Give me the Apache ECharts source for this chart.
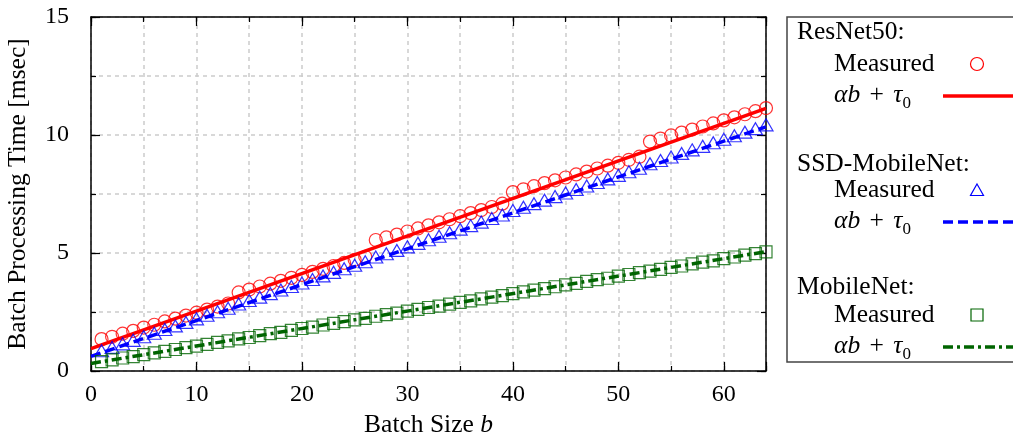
<!DOCTYPE html>
<html><head><meta charset="utf-8">
<script src="https://cdn.jsdelivr.net/npm/echarts@6/dist/echarts.min.js"></script>
<style>html,body{margin:0;padding:0;background:#fff}#c{width:1013px;height:435px}</style>
</head><body><div id="c"></div>
<script>
const batchSizes = [1,2,3,4,5,6,7,8,9,10,11,12,13,14,15,16,17,18,19,20,21,22,23,24,25,26,27,28,29,30,31,32,
  33,34,35,36,37,38,39,40,41,42,43,44,45,46,47,48,49,50,51,52,53,54,55,56,57,58,59,60,61,62,63,64];
const resnetMeasured = [1.35,1.45,1.58,1.70,1.84,1.96,2.10,2.22,2.35,2.47,2.60,2.73,2.86,3.33,3.45,3.58,
  3.70,3.82,3.95,4.07,4.20,4.33,4.45,4.58,4.71,4.84,5.55,5.66,5.78,5.91,6.04,6.17,
  6.30,6.43,6.56,6.69,6.82,6.95,7.09,7.58,7.70,7.83,7.96,8.08,8.20,8.33,8.45,8.58,
  8.70,8.82,8.95,9.08,9.72,9.85,9.98,10.10,10.23,10.36,10.49,10.62,10.75,10.88,11.01,11.14];
const ssdMeasured = [0.86,1.00,1.15,1.30,1.45,1.60,1.76,1.91,2.06,2.21,2.36,2.51,2.66,2.84,2.99,3.13,
  3.28,3.43,3.58,3.73,3.88,4.03,4.18,4.33,4.48,4.63,4.83,4.97,5.11,5.26,5.41,5.56,
  5.71,5.86,6.01,6.16,6.31,6.46,6.61,6.80,6.94,7.09,7.24,7.39,7.54,7.69,7.84,7.99,
  8.14,8.29,8.44,8.59,8.78,8.92,9.07,9.22,9.37,9.52,9.67,9.82,9.97,10.12,10.27,10.43];
const mobilenetMeasured = [0.40,0.47,0.55,0.61,0.69,0.77,0.83,0.91,0.99,1.05,1.13,1.21,1.28,1.36,1.42,1.50,
  1.58,1.64,1.72,1.80,1.86,1.95,2.02,2.09,2.17,2.23,2.32,2.39,2.45,2.54,2.61,2.69,
  2.75,2.83,2.91,2.97,3.06,3.13,3.19,3.28,3.35,3.43,3.49,3.57,3.65,3.71,3.80,3.87,
  3.93,4.02,4.09,4.17,4.23,4.31,4.39,4.45,4.54,4.61,4.67,4.76,4.83,4.91,4.97,5.05];
const modelNames = ['ResNet50:', 'SSD-MobileNet:', 'MobileNet:'];
const fitAlpha = [0.159, 0.152, 0.074];
const fitTau0 = [0.95, 0.62, 0.32];
const xTickLabels = [0,10,20,30,40,50,60];
const yTickLabels = [0,5,10,15];
const xRange = [0, 64];
const yRange = [0, 15];

const FONT = 'Liberation Serif';
const FS = 24;
const FS2 = 25.5;
const colors = ['#ff0000', '#0000ff', '#006400'];
const measuredSets = [resnetMeasured, ssdMeasured, mobilenetMeasured];

function pairs(vals){ return batchSizes.map((b,i)=>[b, vals[i]]); }
function fitLine(k){ return [xRange[0], xRange[1]].map(b => [b, fitTau0[k] + fitAlpha[k]*b]); }

const gridStyle = {show:true, lineStyle:{color:'#cccccc', type:[4,4], width:1.5}};
function xAx(pos, interval, len, labels, line, split){
  return {type:'value', min:xRange[0], max:xRange[1], interval, position:pos,
    axisLine:{show:line, onZero:false, lineStyle:{color:'#000', width:1.5}},
    axisTick:{show:true, inside:true, length:len, lineStyle:{color:'#000', width:1.2}},
    axisLabel:{show:labels, margin:12, fontFamily:FONT, fontSize:FS, color:'#000',
      formatter: v => xTickLabels.includes(v) ? String(v) : ''},
    splitLine: split ? gridStyle : {show:false}};
}
function yAx(pos, interval, len, labels, line, split){
  return {type:'value', min:yRange[0], max:yRange[1], interval, position:pos,
    axisLine:{show:line, onZero:false, lineStyle:{color:'#000', width:1.5}},
    axisTick:{show:true, inside:true, length:len, lineStyle:{color:'#000', width:1.2}},
    axisLabel:{show:labels, margin:22, fontFamily:FONT, fontSize:FS, color:'#000',
      formatter: v => yTickLabels.includes(v) ? String(v) : ''},
    splitLine: split ? gridStyle : {show:false}};
}
const xAxes = [xAx('bottom',5,5,true,true,true), xAx('bottom',10,9,false,false,false),
  xAx('top',5,5,false,true,false), xAx('top',10,9,false,false,false)];
xAxes[0].name = 'Batch Size {i|b}';
xAxes[0].nameLocation = 'middle';
xAxes[0].nameGap = 38;
xAxes[0].nameTextStyle = {fontFamily:FONT, fontSize:FS2, color:'#000', rich:{i:{fontFamily:FONT, fontSize:FS2, fontStyle:'italic', color:'#000'}}};
const yAxes = [yAx('left',2.5,5,true,true,true), yAx('left',5,9,false,false,false),
  yAx('right',2.5,5,false,true,false), yAx('right',5,9,false,false,false)];
yAxes[0].name = 'Batch Processing Time [msec]';
yAxes[0].nameLocation = 'middle';
yAxes[0].nameGap = 60;
yAxes[0].nameTextStyle = {fontFamily:FONT, fontSize:FS2, color:'#000'};

const symbols = ['circle', 'triangle', 'rect'];
const symSizes = [13, [14,12], 12];
const lineTypes = ['solid', [10,5], [10,4,3,4]];
const series = [];
for (let k=0;k<3;k++){
  series.push({type:'scatter', name:modelNames[k]+' Measured', data:pairs(measuredSets[k]),
    symbol:symbols[k], symbolSize:symSizes[k], z:2+2*k,
    itemStyle:{color:'rgba(0,0,0,0)', borderColor:colors[k], borderWidth:1.2}});
  series.push({type:'line', name:modelNames[k]+' fit', data:fitLine(k), showSymbol:false, symbol:'none', z:3+2*k,
    lineStyle:{color:colors[k], width:3.5, type:lineTypes[k]}});
}

const mathText = '{m|αb} {p|+} {m|τ}{s|0}';
const rich = {m:{fontFamily:FONT, fontSize:FS2, fontStyle:'italic', color:'#000'},
  p:{fontFamily:FONT, fontSize:FS2, color:'#000', padding:[0,3,0,3]},
  s:{fontFamily:FONT, fontSize:17, color:'#000', padding:[18,0,0,0]}};
const legendRows = [32, 164, 287];
const g = [{type:'rect', shape:{x:787, y:17, width:240, height:345}, style:{fill:'#fff', stroke:'#444', lineWidth:1.5}, z:10}];
for (let k=0;k<3;k++){
  const y0 = legendRows[k];
  const ym = y0 + (k===0?32:(k===1?26:28));
  const yf = ym + 31;
  const font = FS2+'px "'+FONT+'"';
  g.push({type:'text', x:797, y:y0, z:11, style:{text:modelNames[k], font, fill:'#000', verticalAlign:'middle'}});
  g.push({type:'text', x:834, y:ym, z:11, style:{text:'Measured', font, fill:'#000', verticalAlign:'middle'}});
  g.push({type:'text', x:834, y:yf, z:11, style:{text:mathText, rich, font, fill:'#000', verticalAlign:'middle'}});
  if (k===0) g.push({type:'circle', z:11, shape:{cx:977, cy:ym, r:6.5}, style:{fill:'none', stroke:colors[0], lineWidth:1.2}});
  if (k===1) g.push({type:'polygon', z:11, shape:{points:[[977,ym-6],[983.5,ym+5.5],[970.5,ym+5.5]]}, style:{fill:'none', stroke:colors[1], lineWidth:1.2}});
  if (k===2) g.push({type:'rect', z:11, shape:{x:971, y:ym-6, width:12, height:12}, style:{fill:'none', stroke:colors[2], lineWidth:1.2}});
  g.push({type:'line', z:11, shape:{x1:943, y1:yf+1, x2:1013, y2:yf+1}, style:{stroke:colors[k], lineWidth:3.5, lineDash: lineTypes[k]==='solid'?null:lineTypes[k]}});
}

const chart = echarts.init(document.getElementById('c'), null, {renderer:'canvas'});
chart.setOption({
  animation:false,
  backgroundColor:'#fff',
  grid:{left:91, right:247, top:17, bottom:64, containLabel:false, outerBoundsMode:'none'},
  xAxis:xAxes, yAxis:yAxes, series, graphic:g
});
</script></body></html>
